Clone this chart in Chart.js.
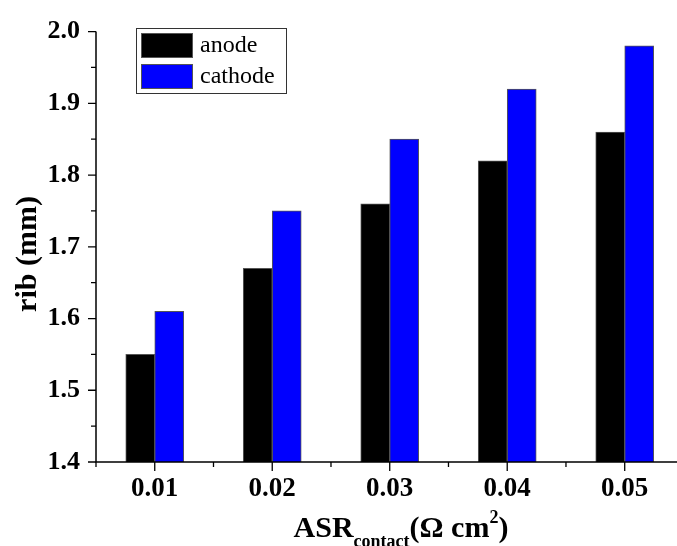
<!DOCTYPE html>
<html>
<head>
<meta charset="utf-8">
<script src="https://cdn.jsdelivr.net/npm/chart.js@4.4.0/dist/chart.umd.min.js"></script>
<style>
  html, body { margin: 0; padding: 0; background: #fff; overflow: hidden; }
</style>
</head>
<body>
<canvas id="chart" width="677" height="546"></canvas>
<script>
const categories = [0.01, 0.02, 0.03, 0.04, 0.05];
const xTickLabels = ["0.01", "0.02", "0.03", "0.04", "0.05"];
const anode = [1.55, 1.67, 1.76, 1.82, 1.86];
const cathode = [1.61, 1.75, 1.85, 1.92, 1.98];
const yTicks = [1.4, 1.5, 1.6, 1.7, 1.8, 1.9, 2.0];

const serif = '"Liberation Serif", "Times New Roman", serif';
Chart.defaults.font.family = serif;
Chart.defaults.color = "#000";

// axis lines, tick marks, titles and legend box
const decor = {
  id: "decor",
  afterDraw(chart) {
    const { ctx, chartArea: a, scales: { x, y } } = chart;
    ctx.save();
    ctx.strokeStyle = "#000";
    ctx.lineWidth = 1.5;
    ctx.beginPath();
    ctx.moveTo(a.left, a.top);
    ctx.lineTo(a.left, a.bottom);
    ctx.lineTo(a.right + 10, a.bottom);
    ctx.stroke();

    ctx.lineWidth = 1.3;
    ctx.beginPath();
    yTicks.forEach((v, i) => {
      const py = y.getPixelForValue(v);
      ctx.moveTo(a.left - 8, py); ctx.lineTo(a.left, py);
      if (i < yTicks.length - 1) {
        const pm = y.getPixelForValue((v + yTicks[i + 1]) / 2);
        ctx.moveTo(a.left - 5, pm); ctx.lineTo(a.left, pm);
      }
    });
    const step = categories[1] - categories[0];
    categories.forEach(c => {
      const px = x.getPixelForValue(c);
      ctx.moveTo(px, a.bottom); ctx.lineTo(px, a.bottom + 9);
      const pm = x.getPixelForValue(c - step / 2);
      ctx.moveTo(pm, a.bottom); ctx.lineTo(pm, a.bottom + 5);
    });
    ctx.stroke();

    // y title
    ctx.fillStyle = "#000";
    ctx.save();
    ctx.translate(28, 254);
    ctx.rotate(-Math.PI / 2);
    ctx.font = "bold 30px " + serif;
    ctx.textAlign = "center";
    ctx.textBaseline = "middle";
    ctx.fillText("rib (mm)", 0, 0);
    ctx.restore();

    // x title with subscript and superscript
    const parts = [
      { t: "ASR", f: "bold 30px ", dy: 0 },
      { t: "contact", f: "bold 18px ", dy: 10 },
      { t: "(\u03A9 cm", f: "bold 30px ", dy: 0 },
      { t: "2", f: "bold 18px ", dy: -14 },
      { t: ")", f: "bold 30px ", dy: 0 }
    ];
    let total = 0;
    parts.forEach(p => { ctx.font = p.f + serif; p.w = ctx.measureText(p.t).width; total += p.w; });
    let cx = 401 - total / 2;
    ctx.textAlign = "left";
    ctx.textBaseline = "alphabetic";
    parts.forEach(p => {
      ctx.font = p.f + serif;
      ctx.fillText(p.t, cx, 537 + p.dy);
      cx += p.w;
    });

    // legend
    ctx.lineWidth = 1;
    ctx.strokeStyle = "#333";
    ctx.strokeRect(136.5, 28.5, 150, 65);
    ctx.font = "24px " + serif;
    ctx.textBaseline = "middle";
    chart.data.datasets.forEach((ds, i) => {
      const top = 33 + i * 31;
      ctx.fillStyle = ds.backgroundColor;
      ctx.fillRect(141, top, 52, 25);
      ctx.strokeStyle = "#555";
      ctx.strokeRect(141.5, top + 0.5, 51, 24);
      ctx.fillStyle = "#000";
      ctx.fillText(ds.label, 200, top + 13);
    });
    ctx.restore();
  }
};

new Chart(document.getElementById("chart"), {
  type: "bar",
  data: {
    datasets: [
      {
        label: "anode",
        data: categories.map((c, i) => ({ x: c, y: anode[i] })),
        backgroundColor: "#000000",
        borderColor: "#555",
        borderWidth: 1
      },
      {
        label: "cathode",
        data: categories.map((c, i) => ({ x: c, y: cathode[i] })),
        backgroundColor: "#0000ff",
        borderColor: "#555",
        borderWidth: 1
      }
    ]
  },
  options: {
    responsive: false,
    animation: false,
    barThickness: 29,
    layout: { padding: { top: 26, right: 0, left: 0, bottom: 0 } },
    plugins: { legend: { display: false }, tooltip: { enabled: false } },
    scales: {
      x: {
        type: "linear",
        min: 0.005,
        max: 0.05445,
        offset: false,
        grid: { display: false, drawTicks: false },
        border: { display: false },
        afterBuildTicks: s => { s.ticks = categories.map(v => ({ value: v })); },
        afterFit: s => { s.height = 84; },
        ticks: {
          padding: 12,
          maxRotation: 0,
          autoSkip: false,
          font: { size: 27, weight: "bold", lineHeight: 1.1 },
          callback: (v, i) => xTickLabels[i]
        }
      },
      y: {
        min: 1.4,
        max: 2.0,
        grid: { display: false, drawTicks: false },
        border: { display: false },
        afterBuildTicks: s => { s.ticks = yTicks.map(v => ({ value: v })); },
        afterFit: s => { s.width = 96; },
        ticks: {
          padding: 16,
          font: { size: 26, weight: "bold" },
          callback: v => Number(v).toFixed(1)
        }
      }
    }
  },
  plugins: [decor]
});
</script>
</body>
</html>
